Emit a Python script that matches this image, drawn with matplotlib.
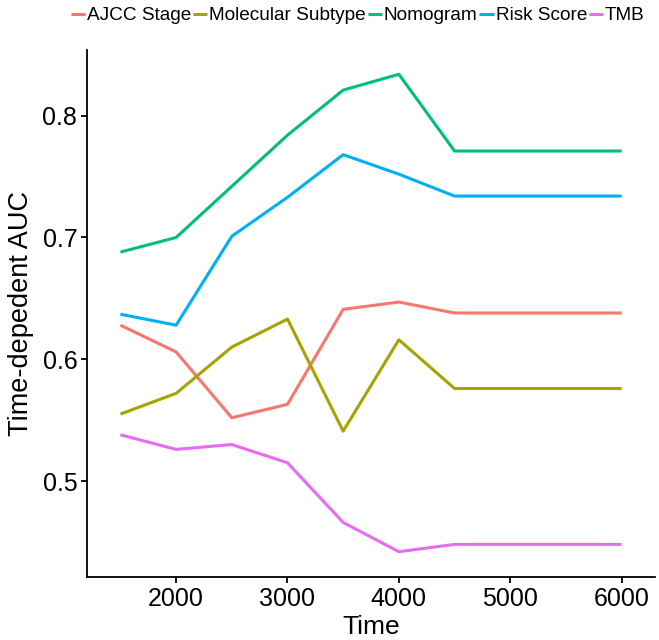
import matplotlib.pyplot as plt

plt.rcParams['font.family'] = ['Liberation Sans', 'DejaVu Sans']

time = [1500, 2000, 2500, 3000, 3500, 4000, 4500, 5000, 5500, 6000]

ajcc = [0.628, 0.606, 0.552, 0.563, 0.641, 0.647, 0.638, 0.638, 0.638, 0.638]
molecular = [0.555, 0.572, 0.610, 0.633, 0.541, 0.616, 0.576, 0.576, 0.576, 0.576]
nomogram = [0.688, 0.700, 0.742, 0.784, 0.821, 0.834, 0.771, 0.771, 0.771, 0.771]
risk = [0.637, 0.628, 0.701, 0.733, 0.768, 0.752, 0.734, 0.734, 0.734, 0.734]
tmb = [0.538, 0.526, 0.530, 0.515, 0.466, 0.442, 0.448, 0.448, 0.448, 0.448]

names = ['AJCC Stage', 'Molecular Subtype', 'Nomogram', 'Risk Score', 'TMB']
colors = ['#F8766D', '#A3A500', '#00BF7D', '#00B0F6', '#E76BF3']

fig = plt.figure(figsize=(6.59, 6.4), dpi=100)
ax = fig.add_axes([0.132, 0.098, 0.862, 0.824])

for y, c, n in zip([ajcc, molecular, nomogram, risk, tmb], colors, names):
    ax.plot(time, y, color=c, lw=2.2, label=n, solid_capstyle='butt')

ax.set_xlim(1200, 6300)
ax.set_ylim(0.421, 0.854)
ax.set_xticks([2000, 3000, 4000, 5000, 6000])
ax.set_yticks([0.5, 0.6, 0.7, 0.8])
ax.set_yticklabels(['0.5', '0.6', '0.7', '0.8'])

for s in ['top', 'right']:
    ax.spines[s].set_visible(False)
for s in ['left', 'bottom']:
    ax.spines[s].set_linewidth(1.3)
ax.tick_params(direction='out', length=4, width=1.3, labelsize=18, colors='black', pad=3)
ax.set_xlabel('Time', fontsize=19, labelpad=3)
ax.set_ylabel('Time-depedent AUC', fontsize=19.5, labelpad=6)

fig.legend(loc='upper left', bbox_to_anchor=(0.081, 1.016), ncol=5, frameon=False,
           fontsize=13.7, handlelength=0.75, handletextpad=0.1, columnspacing=0.1)

fig.savefig('out.png', dpi=100)
